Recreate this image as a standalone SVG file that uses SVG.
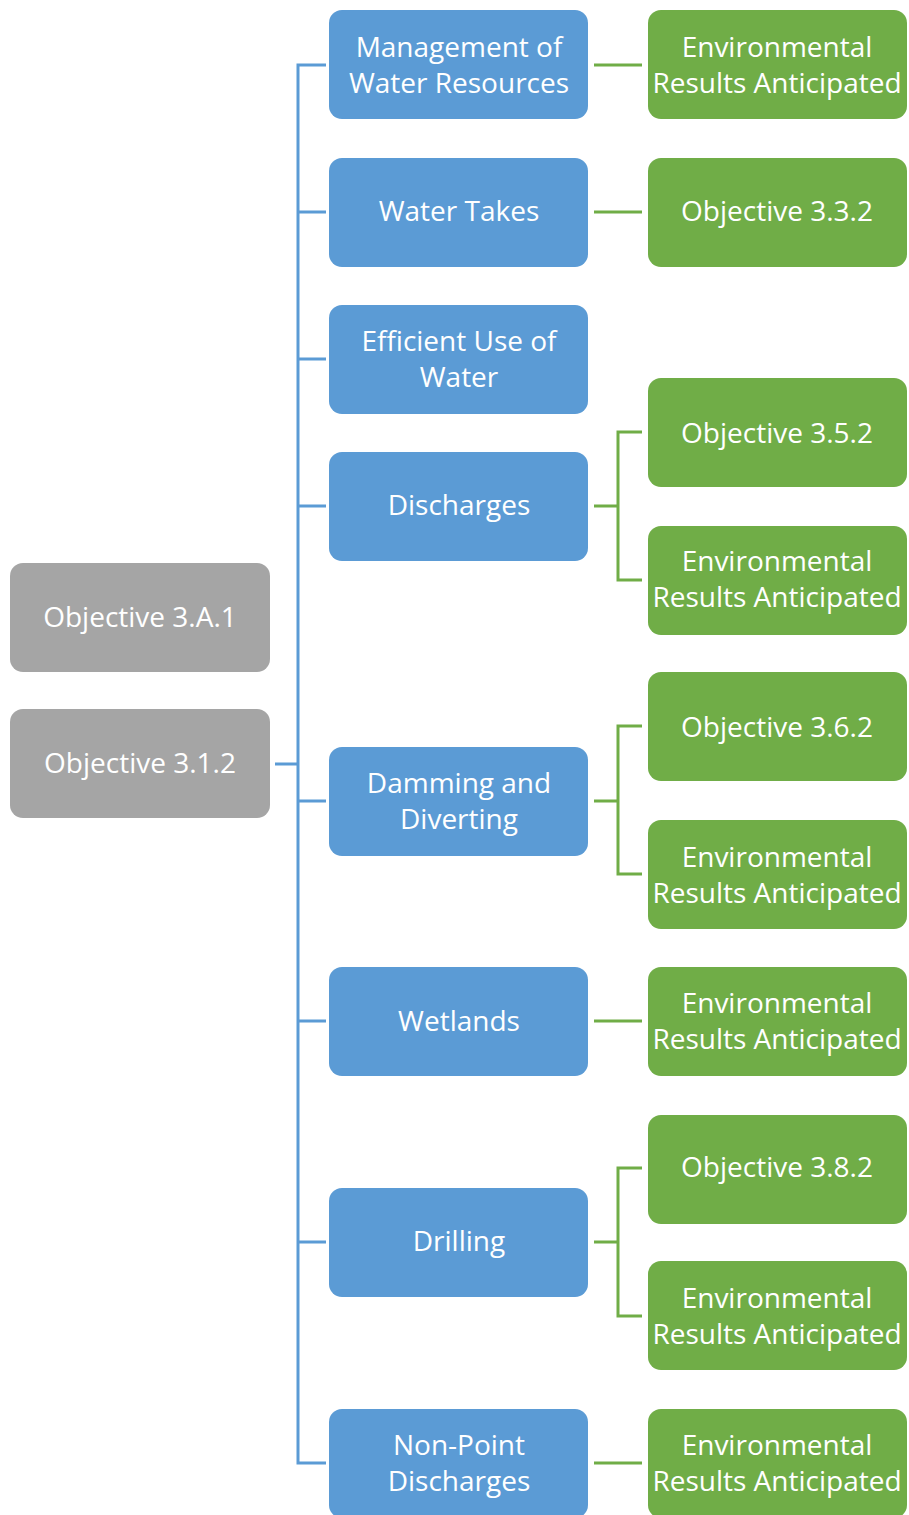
<svg xmlns="http://www.w3.org/2000/svg" width="909" height="1515" viewBox="0 0 909 1515">
<style>
.g{fill:#A5A5A5}
.b{fill:#5B9BD5}
.n{fill:#70AD47}
text{font-family:"Open Sans","Noto Sans","Liberation Sans",sans-serif;font-size:28px;fill:#fff;text-anchor:middle;dominant-baseline:central}
.cb{stroke:#5B9BD5;stroke-width:3;fill:none}
.cg{stroke:#70AD47;stroke-width:3;fill:none}
</style>
<rect width="909" height="1515" fill="#fff"/>
<g id="connectors">
<path class="cb" d="M275 764H298M326 65H298V1463H326M298 212H326M298 359H326M298 506H326M298 801H326M298 1021H326M298 1242H326"/>
<path class="cg" d="M594 65H642M594 212H642M594 1021H642M594 1463H642"/>
<path class="cg" d="M594 506H618M642 432H618V580H642"/>
<path class="cg" d="M594 801H618M642 726H618V874H642"/>
<path class="cg" d="M594 1242H618M642 1168H618V1316H642"/>
</g>
<g id="obj3A1"><rect class="g" x="10" y="563" width="260" height="109" rx="13"/><text x="140" y="616">Objective 3.A.1</text></g>
<g id="obj312"><rect class="g" x="10" y="709" width="260" height="109" rx="13"/><text x="140" y="762">Objective 3.1.2</text></g>
<g id="b1"><rect class="b" x="329" y="10" width="259" height="109" rx="13"/><text x="459" y="46">Management of</text><text x="459" y="82">Water Resources</text></g>
<g id="b2"><rect class="b" x="329" y="158" width="259" height="109" rx="13"/><text x="459" y="210">Water Takes</text></g>
<g id="b3"><rect class="b" x="329" y="305" width="259" height="109" rx="13"/><text x="459" y="340">Efficient Use of</text><text x="459" y="376">Water</text></g>
<g id="b4"><rect class="b" x="329" y="452" width="259" height="109" rx="13"/><text x="459" y="504">Discharges</text></g>
<g id="b5"><rect class="b" x="329" y="747" width="259" height="109" rx="13"/><text x="459" y="782">Damming and</text><text x="459" y="818">Diverting</text></g>
<g id="b6"><rect class="b" x="329" y="967" width="259" height="109" rx="13"/><text x="459" y="1020">Wetlands</text></g>
<g id="b7"><rect class="b" x="329" y="1188" width="259" height="109" rx="13"/><text x="459" y="1240">Drilling</text></g>
<g id="b8"><rect class="b" x="329" y="1409" width="259" height="109" rx="13"/><text x="459" y="1444">Non-Point</text><text x="459" y="1480">Discharges</text></g>
<g id="g1"><rect class="n" x="648" y="10" width="259" height="109" rx="13"/><text x="777" y="46">Environmental</text><text x="777" y="82">Results Anticipated</text></g>
<g id="g2"><rect class="n" x="648" y="158" width="259" height="109" rx="13"/><text x="777" y="210">Objective 3.3.2</text></g>
<g id="g3"><rect class="n" x="648" y="378" width="259" height="109" rx="13"/><text x="777" y="432">Objective 3.5.2</text></g>
<g id="g4"><rect class="n" x="648" y="526" width="259" height="109" rx="13"/><text x="777" y="560">Environmental</text><text x="777" y="596">Results Anticipated</text></g>
<g id="g5"><rect class="n" x="648" y="672" width="259" height="109" rx="13"/><text x="777" y="726">Objective 3.6.2</text></g>
<g id="g6"><rect class="n" x="648" y="820" width="259" height="109" rx="13"/><text x="777" y="856">Environmental</text><text x="777" y="892">Results Anticipated</text></g>
<g id="g7"><rect class="n" x="648" y="967" width="259" height="109" rx="13"/><text x="777" y="1002">Environmental</text><text x="777" y="1038">Results Anticipated</text></g>
<g id="g8"><rect class="n" x="648" y="1115" width="259" height="109" rx="13"/><text x="777" y="1166">Objective 3.8.2</text></g>
<g id="g9"><rect class="n" x="648" y="1261" width="259" height="109" rx="13"/><text x="777" y="1297">Environmental</text><text x="777" y="1333">Results Anticipated</text></g>
<g id="g10"><rect class="n" x="648" y="1409" width="259" height="109" rx="13"/><text x="777" y="1444">Environmental</text><text x="777" y="1480">Results Anticipated</text></g>
</svg>
